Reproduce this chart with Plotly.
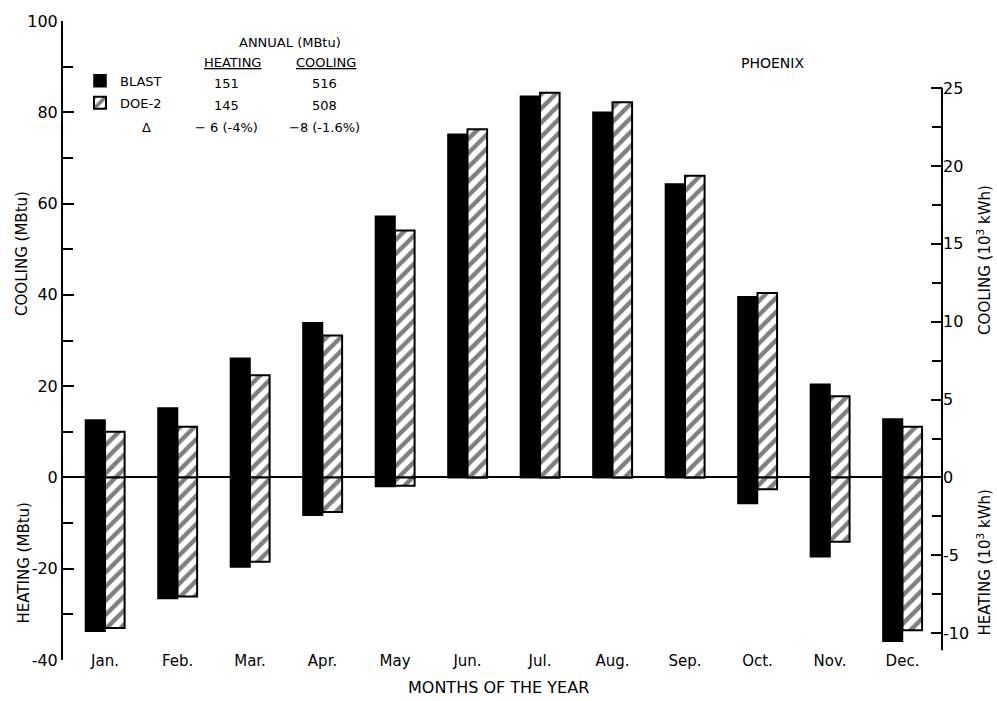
import plotly.graph_objects as go

# Monthly loads for the Phoenix building, MBtu
months = ["Jan.", "Feb.", "Mar.", "Apr.", "May", "Jun.", "Jul.", "Aug.", "Sep.", "Oct.", "Nov.", "Dec."]
blast_cooling = [12.6, 15.2, 26.1, 33.9, 57.2, 75.2, 83.5, 80.0, 64.3, 39.6, 20.4, 12.8]
doe2_cooling = [10.0, 11.1, 22.4, 31.1, 54.1, 76.3, 84.3, 82.2, 66.1, 40.4, 17.8, 11.1]
blast_heating = [33.7, 26.5, 19.6, 8.3, 2.0, 0.0, 0.0, 0.0, 0.0, 5.7, 17.4, 35.9]
doe2_heating = [33.0, 26.1, 18.5, 7.6, 1.8, 0.0, 0.0, 0.0, 0.0, 2.6, 14.1, 33.5]

# Annual totals table
annual_rows = [
    ("151", "516"),
    ("145", "508"),
    ("\u2212 6 (-4%)", "\u22128 (-1.6%)"),
]

left_ticks = [-40, -20, 0, 20, 40, 60, 80, 100]
right_ticks = [-10, -5, 0, 5, 10, 15, 20, 25]
MBTU_PER_MWH = 3.412

FONT = "DejaVu Sans, Liberation Sans, sans-serif"
W, H = 997, 701
L, R, T, B = 63, 55, 18, 41
PW, PH = W - L - R, H - T - B


def px(x):
    return (x - L) / PW


def py(y):
    return (H - B - y) / PH


fig = go.Figure()

solid = dict(color="black", line=dict(color="black", width=1.5))
hatched = dict(
    color="white",
    line=dict(color="black", width=2),
    pattern=dict(shape="/", fgcolor="black", bgcolor="white", size=10, solidity=0.45),
)

fig.add_trace(go.Bar(x=months, y=blast_cooling, name="BLAST", offsetgroup="blast",
                     legendgroup="blast", marker=solid))
fig.add_trace(go.Bar(x=months, y=[-v for v in blast_heating], name="BLAST", offsetgroup="blast",
                     legendgroup="blast", showlegend=False, marker=solid))
fig.add_trace(go.Bar(x=months, y=doe2_cooling, name="DOE-2", offsetgroup="doe2",
                     legendgroup="doe2", marker=hatched))
fig.add_trace(go.Bar(x=months, y=[-v for v in doe2_heating], name="DOE-2", offsetgroup="doe2",
                     legendgroup="doe2", showlegend=False, marker=hatched))

# Invisible trace that carries the secondary (10^3 kWh) axis
fig.add_trace(go.Scatter(x=[months[0]], y=[0], yaxis="y2", mode="markers",
                         marker=dict(opacity=0), showlegend=False, hoverinfo="skip"))

fig.update_layout(
    width=W, height=H,
    margin=dict(l=L, r=R, t=T, b=B),
    paper_bgcolor="white", plot_bgcolor="white",
    font=dict(family=FONT, color="black"),
    barmode="group", bargap=0.46, bargroupgap=0.0,
    showlegend=True,
    legend=dict(x=px(80), y=py(63), xanchor="left", yanchor="top",
                bgcolor="rgba(0,0,0,0)", font=dict(size=13, family=FONT),
                traceorder="grouped", tracegroupgap=2, itemwidth=30),
    xaxis=dict(
        type="category", range=[-0.58, 11.545], showline=False, showgrid=False,
        ticks="", tickfont=dict(size=15, family=FONT), ticklabelstandoff=-10,
        zeroline=False,
    ),
    yaxis=dict(
        range=[-40, 100], showgrid=False, showline=True, linecolor="black", linewidth=2,
        ticks="inside", ticklen=11, tickwidth=2, tickcolor="black",
        tickvals=left_ticks, ticktext=[str(v) for v in left_ticks],
        tickfont=dict(size=16, family=FONT),
        minor=dict(tickvals=[-30, -10, 10, 30, 50, 70, 90], ticks="inside",
                   ticklen=10, tickwidth=2, tickcolor="black"),
        zeroline=True, zerolinecolor="black", zerolinewidth=2,
    ),
    yaxis2=dict(
        overlaying="y", side="right", anchor="x",
        range=[-40 / MBTU_PER_MWH, 100 / MBTU_PER_MWH],
        showgrid=False, showline=False, zeroline=False,
        ticks="inside", ticklen=11, tickwidth=2, tickcolor="black",
        tickvals=right_ticks, ticktext=[str(v) for v in right_ticks],
        tickfont=dict(size=16, family=FONT),
        minor=dict(tickvals=[-7.5, -2.5, 2.5, 7.5, 12.5, 17.5, 22.5], ticks="inside",
                   ticklen=10, tickwidth=2, tickcolor="black"),
    ),
)

# Right-hand axis line, from just below -10 up to 25
fig.add_shape(type="line", xref="paper", yref="y2", x0=1, x1=1, y0=-11.1, y1=25,
              line=dict(color="black", width=2))

annotations = []


def note(text, x, y, size=13, angle=0, anchor="center"):
    annotations.append(dict(text=text, x=px(x), y=py(y), xref="paper", yref="paper",
                            showarrow=False, xanchor=anchor, yanchor="middle",
                            textangle=angle, font=dict(size=size, family=FONT, color="black")))


# Axis titles
note("COOLING (MBtu)", 22, 252, size=15, angle=-90)
note("HEATING (MBtu)", 24, 563, size=15, angle=-90)
note("COOLING (10<sup>3</sup> kWh)", 984, 258, size=15, angle=-90)
note("HEATING (10<sup>3</sup> kWh)", 984, 562, size=15, angle=-90)
note("MONTHS OF THE YEAR", 498, 688, size=16)
note("PHOENIX", 772, 60, size=14)

# Annual totals table
note("ANNUAL (MBtu)", 290, 40, size=13)
note("<u>HEATING</u>", 232, 60, size=13)
note("<u>COOLING</u>", 326, 60, size=13)
for i, (heat, cool) in enumerate(annual_rows):
    yrow = 81 + 22 * i
    note(heat, 226, yrow, size=13)
    note(cool, 324, yrow, size=13)
note("\u0394", 146, 125, size=13)

fig.update_layout(annotations=annotations)

fig.write_html("out.html")
